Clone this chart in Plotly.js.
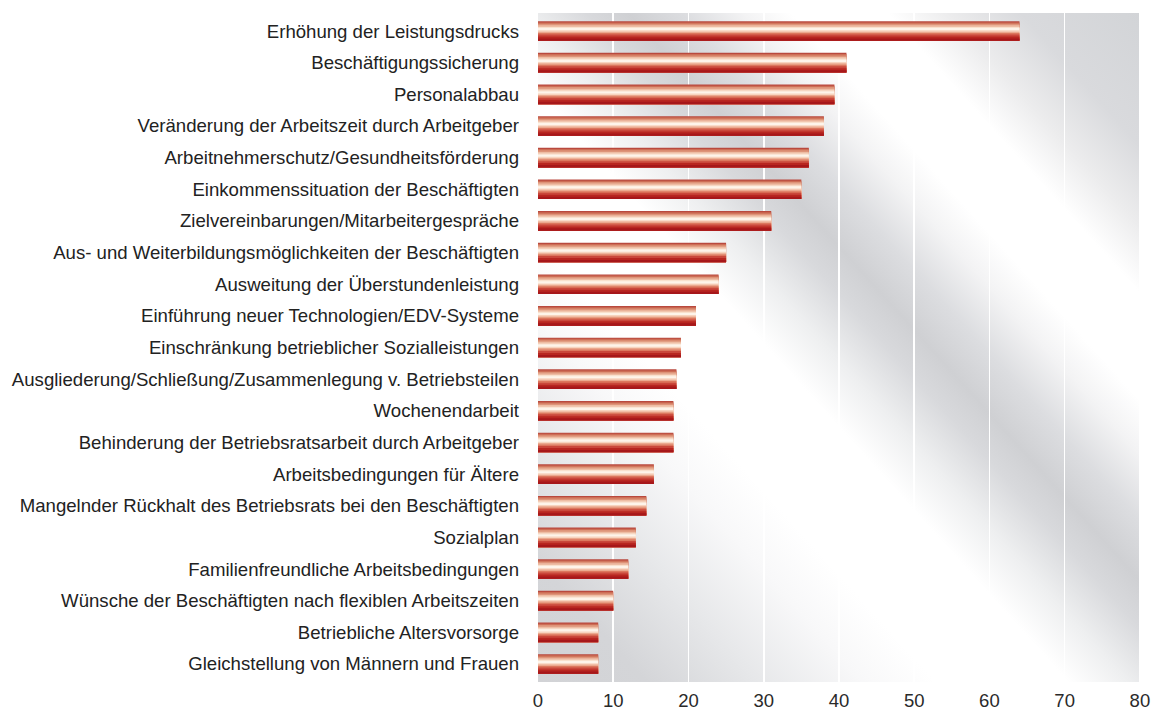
<!DOCTYPE html>
<html>
<head>
<meta charset="utf-8">
<script src="https://cdn.plot.ly/plotly-3.0.1.min.js"></script>
<style>
html,body{margin:0;padding:0;background:#ffffff;}
#chart{width:1152px;height:713px;}
</style>
</head>
<body>
<div id="chart"></div>
<script>
// Categories, top to bottom
const categories = [
  "Erhöhung der Leistungsdrucks",
  "Beschäftigungssicherung",
  "Personalabbau",
  "Veränderung der Arbeitszeit durch Arbeitgeber",
  "Arbeitnehmerschutz/Gesundheitsförderung",
  "Einkommenssituation der Beschäftigten",
  "Zielvereinbarungen/Mitarbeitergespräche",
  "Aus- und Weiterbildungsmöglichkeiten der Beschäftigten",
  "Ausweitung der Überstundenleistung",
  "Einführung neuer Technologien/EDV-Systeme",
  "Einschränkung betrieblicher Sozialleistungen",
  "Ausgliederung/Schließung/Zusammenlegung v. Betriebsteilen",
  "Wochenendarbeit",
  "Behinderung der Betriebsratsarbeit durch Arbeitgeber",
  "Arbeitsbedingungen für Ältere",
  "Mangelnder Rückhalt des Betriebsrats bei den Beschäftigten",
  "Sozialplan",
  "Familienfreundliche Arbeitsbedingungen",
  "Wünsche der Beschäftigten nach flexiblen Arbeitszeiten",
  "Betriebliche Altersvorsorge",
  "Gleichstellung von Männern und Frauen"
];
const values = [64, 41, 39.4, 38, 36, 35, 31, 25, 24, 21, 19, 18.4, 18, 18, 15.4, 14.4, 13, 12, 10, 8, 8];
const tickValues = [0, 10, 20, 30, 40, 50, 60, 70, 80];
const tickLabels = ["0", "10", "20", "30", "40", "50", "60", "70", "80"];
const gridValues = [10, 20, 30, 40, 50, 60, 70, 80];

// Bar shading: layered stripes (start fraction of bar thickness, colour)
const stripeStarts = [0.00, 0.06, 0.13, 0.21, 0.29, 0.35, 0.46, 0.53, 0.60, 0.68, 0.78, 0.88];
const stripeColors = ["#b9493e", "#cd6d55", "#de9479", "#eebda4", "#f9e1ce", "#fef4ea",
                      "#f7d4bf", "#eba88e", "#dc775e", "#ca473b", "#b82620", "#a6171a"];
const barThickness = 0.62;

const traces = stripeStarts.map((f, i) => ({
  type: "bar",
  orientation: "h",
  x: values,
  y: categories,
  width: (1 - f) * barThickness,
  offset: -barThickness / 2 + f * barThickness,
  marker: {color: stripeColors[i], line: {width: 0}},
  hoverinfo: "skip",
  showlegend: false
}));

// Background sheen (brushed metal look) as an SVG gradient image
const bgSvg =
  '<svg xmlns="http://www.w3.org/2000/svg" width="603" height="669" viewBox="0 0 603 669" preserveAspectRatio="none">' +
  '<defs><linearGradient id="g" gradientUnits="userSpaceOnUse" x1="0" y1="669" x2="665.7" y2="69.8">' +
  '<stop offset="0" stop-color="#d2d3d6"/>' +
  '<stop offset="0.09" stop-color="#d4d5d8"/>' +
  '<stop offset="0.18" stop-color="#e6e7e9"/>' +
  '<stop offset="0.27" stop-color="#f8f8f9"/>' +
  '<stop offset="0.33" stop-color="#ffffff"/>' +
  '<stop offset="0.44" stop-color="#ffffff"/>' +
  '<stop offset="0.49" stop-color="#eeeff0"/>' +
  '<stop offset="0.54" stop-color="#d8d9dc"/>' +
  '<stop offset="0.575" stop-color="#cfd0d3"/>' +
  '<stop offset="0.62" stop-color="#dcdde0"/>' +
  '<stop offset="0.67" stop-color="#f3f3f4"/>' +
  '<stop offset="0.71" stop-color="#ffffff"/>' +
  '<stop offset="0.79" stop-color="#ffffff"/>' +
  '<stop offset="0.84" stop-color="#ececed"/>' +
  '<stop offset="0.90" stop-color="#d9dadd"/>' +
  '<stop offset="1" stop-color="#d2d4d7"/>' +
  '</linearGradient></defs>' +
  '<rect x="0" y="0" width="603" height="669" fill="url(#g)"/></svg>';
const bgUri = "data:image/svg+xml;charset=utf-8," + encodeURIComponent(bgSvg);

const layout = {
  width: 1152,
  height: 713,
  margin: {l: 538, r: 11, t: 13, b: 31, pad: 0},
  paper_bgcolor: "#ffffff",
  plot_bgcolor: "rgba(0,0,0,0)",
  barmode: "overlay",
  showlegend: false,
  font: {family: "Liberation Sans, Arial, sans-serif", color: "#222222"},
  xaxis: {
    range: [0, 80.15],
    tickmode: "array",
    tickvals: tickValues,
    ticktext: tickLabels,
    showgrid: false,
    minor: {tickmode: "array", tickvals: gridValues, showgrid: true, gridcolor: "#ffffff", gridwidth: 1.6, ticks: ""},
    zeroline: false,
    showline: false,
    ticks: "",
    ticklabelstandoff: 5,
    tickfont: {size: 18.5, color: "#2a2a2a"},
    fixedrange: true
  },
  yaxis: {
    type: "category",
    categoryorder: "array",
    categoryarray: categories,
    range: [20.57, -0.57],
    showgrid: false,
    zeroline: false,
    showline: false,
    ticks: "",
    ticklabelstandoff: 18,
    tickfont: {size: 18.6, color: "#222222"},
    fixedrange: true
  },
  images: [{
    source: bgUri,
    xref: "paper", yref: "paper",
    x: 0, y: 1, sizex: 1, sizey: 1,
    xanchor: "left", yanchor: "top",
    sizing: "stretch",
    layer: "below"
  }]
};

Plotly.newPlot("chart", traces, layout, {displayModeBar: false, staticPlot: true});
</script>
</body>
</html>
